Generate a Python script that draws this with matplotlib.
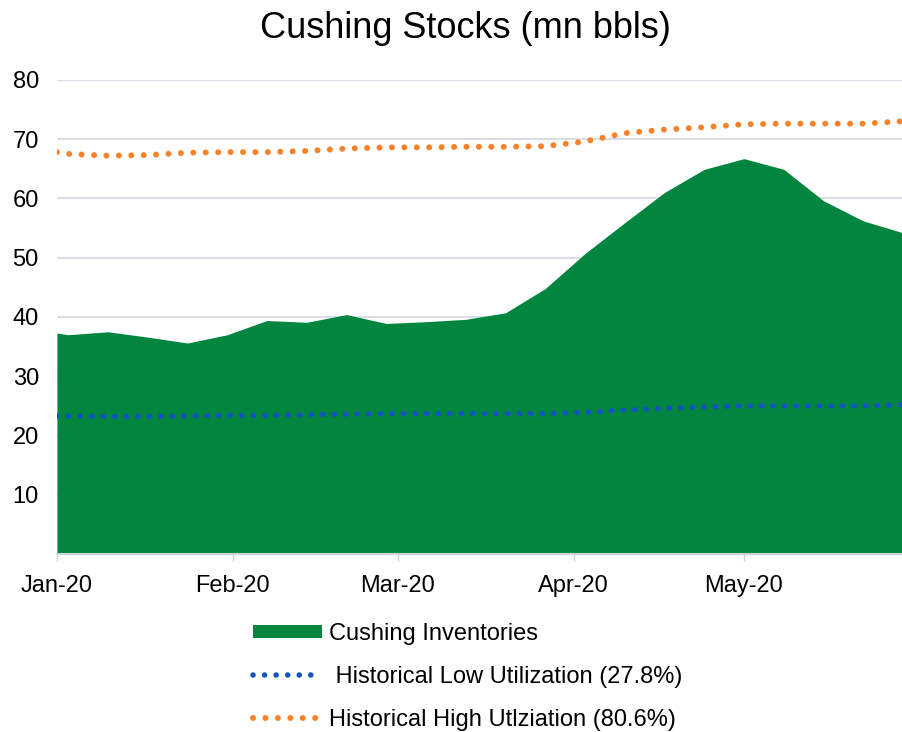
import matplotlib
matplotlib.use("Agg")
import matplotlib.pyplot as plt
import matplotlib.dates as mdates
import pandas as pd

# weekly dates (Fridays), plus the first day of the year
dates = ["2020-01-01", "2020-01-03", "2020-01-10", "2020-01-17", "2020-01-24", "2020-01-31",
         "2020-02-07", "2020-02-14", "2020-02-21", "2020-02-28", "2020-03-06", "2020-03-13",
         "2020-03-20", "2020-03-27", "2020-04-03", "2020-04-10", "2020-04-17", "2020-04-24",
         "2020-05-01", "2020-05-08", "2020-05-15", "2020-05-22", "2020-05-29"]

inventories = [37.3, 37.0, 37.5, 36.6, 35.6, 37.0,
               39.4, 39.1, 40.4, 38.9, 39.2, 39.6,
               40.7, 44.8, 50.7, 55.9, 61.0, 64.9,
               66.7, 64.9, 59.6, 56.2, 54.2]

low_util = [23.3, 23.3, 23.2, 23.2, 23.3, 23.4,
            23.4, 23.5, 23.6, 23.7, 23.7, 23.7,
            23.7, 23.7, 23.9, 24.3, 24.6, 24.8,
            25.0, 25.0, 25.0, 25.0, 25.2]

high_util = [67.8, 67.5, 67.2, 67.3, 67.7, 67.8,
             67.8, 68.0, 68.4, 68.6, 68.6, 68.7,
             68.7, 68.8, 69.6, 71.0, 71.6, 72.0,
             72.5, 72.6, 72.6, 72.6, 73.0]

y_ticks = [10, 20, 30, 40, 50, 60, 70, 80]

GREEN = "#02853E"
BLUE = "#1553C4"
ORANGE = "#F7822A"
GRID = "#D9DEE6"

plt.rcParams["font.family"] = ["Liberation Sans", "DejaVu Sans"]

x = pd.to_datetime(dates)

fig = plt.figure(figsize=(9.03, 7.32), dpi=100)
ax = fig.add_axes([0.063, 0.243, 0.937, 0.648])

ax.fill_between(x, inventories, 0, color=GREEN, linewidth=0,
                label="Cushing Inventories", zorder=2)
dot = (0, (0.01, 2.07))
ax.plot(x, low_util, color=BLUE, lw=4.0, linestyle=dot, dash_capstyle="round",
        label=" Historical Low Utilization (27.8%)", zorder=3)
ax.plot(x, high_util, color=ORANGE, lw=4.3, linestyle=dot, dash_capstyle="round",
        label="Historical High Utlziation (80.6%)", zorder=3)

ax.set_xlim(x[0], x[-1])
ax.set_ylim(0, 80)
ax.set_yticks(y_ticks)
ax.yaxis.grid(True, color=GRID, lw=1.5)
ax.set_axisbelow(True)

ax.xaxis.set_major_locator(mdates.MonthLocator())
ax.xaxis.set_major_formatter(mdates.DateFormatter("%b-%y"))

for s in ["top", "right", "left"]:
    ax.spines[s].set_visible(False)
ax.spines["bottom"].set_color("#CCD2DA")
ax.spines["bottom"].set_linewidth(1.5)
ax.spines["bottom"].set_zorder(4)

ax.tick_params(axis="y", length=0, pad=13, labelsize=17)
ax.tick_params(axis="x", length=5, width=1, color="#CCD2DA", pad=10, labelsize=17)

fig.text(0.515, 0.961, "Cushing Stocks (mn bbls)", ha="center", va="center", fontsize=26)

fig.legend(loc="center", bbox_to_anchor=(0.518, 0.0755), frameon=False, fontsize=17,
           handlelength=2.9, handleheight=0.5, handletextpad=0.3, labelspacing=0.88)

fig.savefig("out.png", dpi=100)
